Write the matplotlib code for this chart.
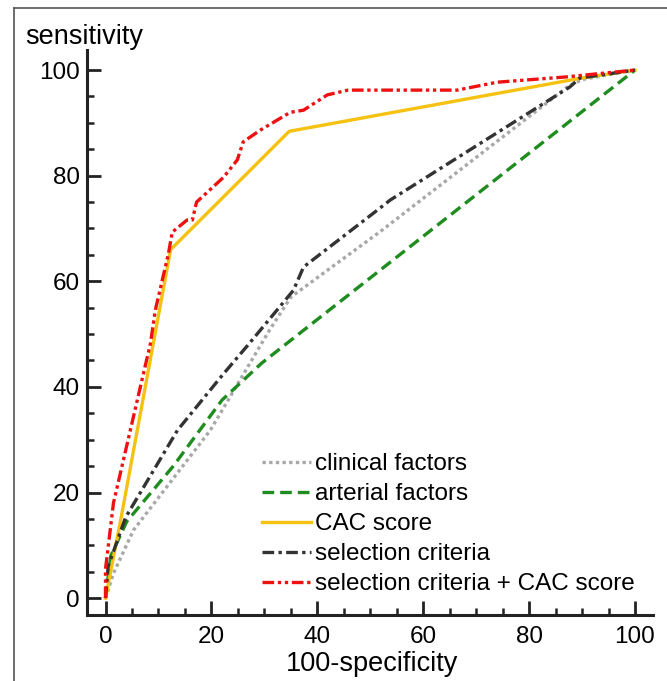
import matplotlib
matplotlib.use('Agg')
import matplotlib.pyplot as plt
from matplotlib.lines import Line2D
from matplotlib.ticker import MultipleLocator

plt.rcParams['font.family'] = ['Liberation Sans', 'DejaVu Sans']

# ROC curves (100-specificity, sensitivity)
clin_x = [0, 1.5, 5.3, 19.8, 31, 35, 52, 87.5, 90, 100]
clin_y = [0, 4.7, 12.9, 31.8, 50.8, 57, 69.5, 97, 98.2, 100]

art_x = [0, 1, 4, 12.8, 22, 29.5, 100]
art_y = [0, 8, 14.5, 25, 37.5, 44.5, 100]

cac_x = [0, 3, 12.3, 34.7, 90, 100]
cac_y = [0, 15.5, 66, 88.4, 98.5, 100]

sel_x = [0, 0.5, 3.8, 13.6, 22.3, 26.8, 35.5, 37.4, 50.6, 53.8, 87.7, 89.6, 100]
sel_y = [0, 6, 15.3, 31.8, 42.5, 47.8, 58.3, 62.7, 72.9, 75.4, 96.8, 98.5, 100]

comb_x = [0, 0, 1.5, 8.5, 9.4, 11.9, 12.6, 15.4, 16.4, 17.2, 22.3, 24.9, 26,
          29.2, 34.9, 37.4, 41.9, 45.8, 53.8, 66.4, 74, 87, 100]
comb_y = [0, 5.5, 18, 48.3, 54.5, 65.3, 69.3, 71.6, 71.6, 75, 79.7, 83, 86.4,
          88.6, 92, 92.4, 95.3, 96.2, 96.2, 96.2, 97.7, 98.7, 100]

fig = plt.figure(figsize=(6.67, 6.81), dpi=100)
ax = fig.add_axes([0.1304, 0.0969, 0.8486, 0.8297])

ax.plot(clin_x, clin_y, color='#a8a8a8', lw=2.4, ls=(0, (1, 1)), label='clinical factors')
ax.plot(art_x, art_y, color='#1e8c1e', lw=2.4, ls=(0, (3.5, 1.8)), label='arterial factors')
ax.plot(cac_x, cac_y, color='#f5c211', lw=2.4, ls='-', label='CAC score')
ax.plot(sel_x, sel_y, color='#333333', lw=2.4, ls=(0, (3.5, 1.3, 1, 1.3)), label='selection criteria')
ax.plot(comb_x, comb_y, color='#ee1111', lw=2.4, ls=(0, (3.5, 1.1, 1, 1.1, 1, 1.1)),
        label='selection criteria + CAC score')

ax.set_xlim(-3.5, 103.4)
ax.set_ylim(-3.2, 103.8)
ax.xaxis.set_minor_locator(MultipleLocator(5))
ax.yaxis.set_minor_locator(MultipleLocator(5))
ax.set_xticks([0, 20, 40, 60, 80, 100])
ax.set_yticks([0, 20, 40, 60, 80, 100])

ax.spines['top'].set_visible(False)
ax.spines['right'].set_visible(False)
for s in ['left', 'bottom']:
    ax.spines[s].set_linewidth(2.2)
    ax.spines[s].set_color('#222222')

ax.tick_params(which='major', direction='in', length=10, width=2, color='#222222', labelsize=17.5)
ax.tick_params(which='minor', direction='in', length=5, width=1.8, color='#222222')
ax.tick_params(axis='x', pad=8)
ax.tick_params(axis='y', pad=5)

fig.text(25 / 667, 1 - 37 / 681, 'sensitivity', fontsize=19.5, ha='left', va='center')
fig.text(372 / 667, 1 - 664 / 681, '100-specificity', fontsize=19.5, ha='center', va='center')

ax.legend(loc='upper left', bbox_to_anchor=(262 / 667, 1 - 453 / 681),
          bbox_transform=fig.transFigure, frameon=False, fontsize=17.5,
          handlelength=2.0, handletextpad=0.2, labelspacing=0.33, borderpad=0,
          borderaxespad=0)

# thin frame around the picture (right and bottom edges fall outside)
fig.add_artist(Line2D([14 / 667, 14 / 667], [0, 1 - 8 / 681], transform=fig.transFigure,
                      color='#555555', lw=1.2))
fig.add_artist(Line2D([14 / 667, 1], [1 - 8 / 681, 1 - 8 / 681], transform=fig.transFigure,
                      color='#555555', lw=1.2))

fig.savefig('out.png', dpi=100)
